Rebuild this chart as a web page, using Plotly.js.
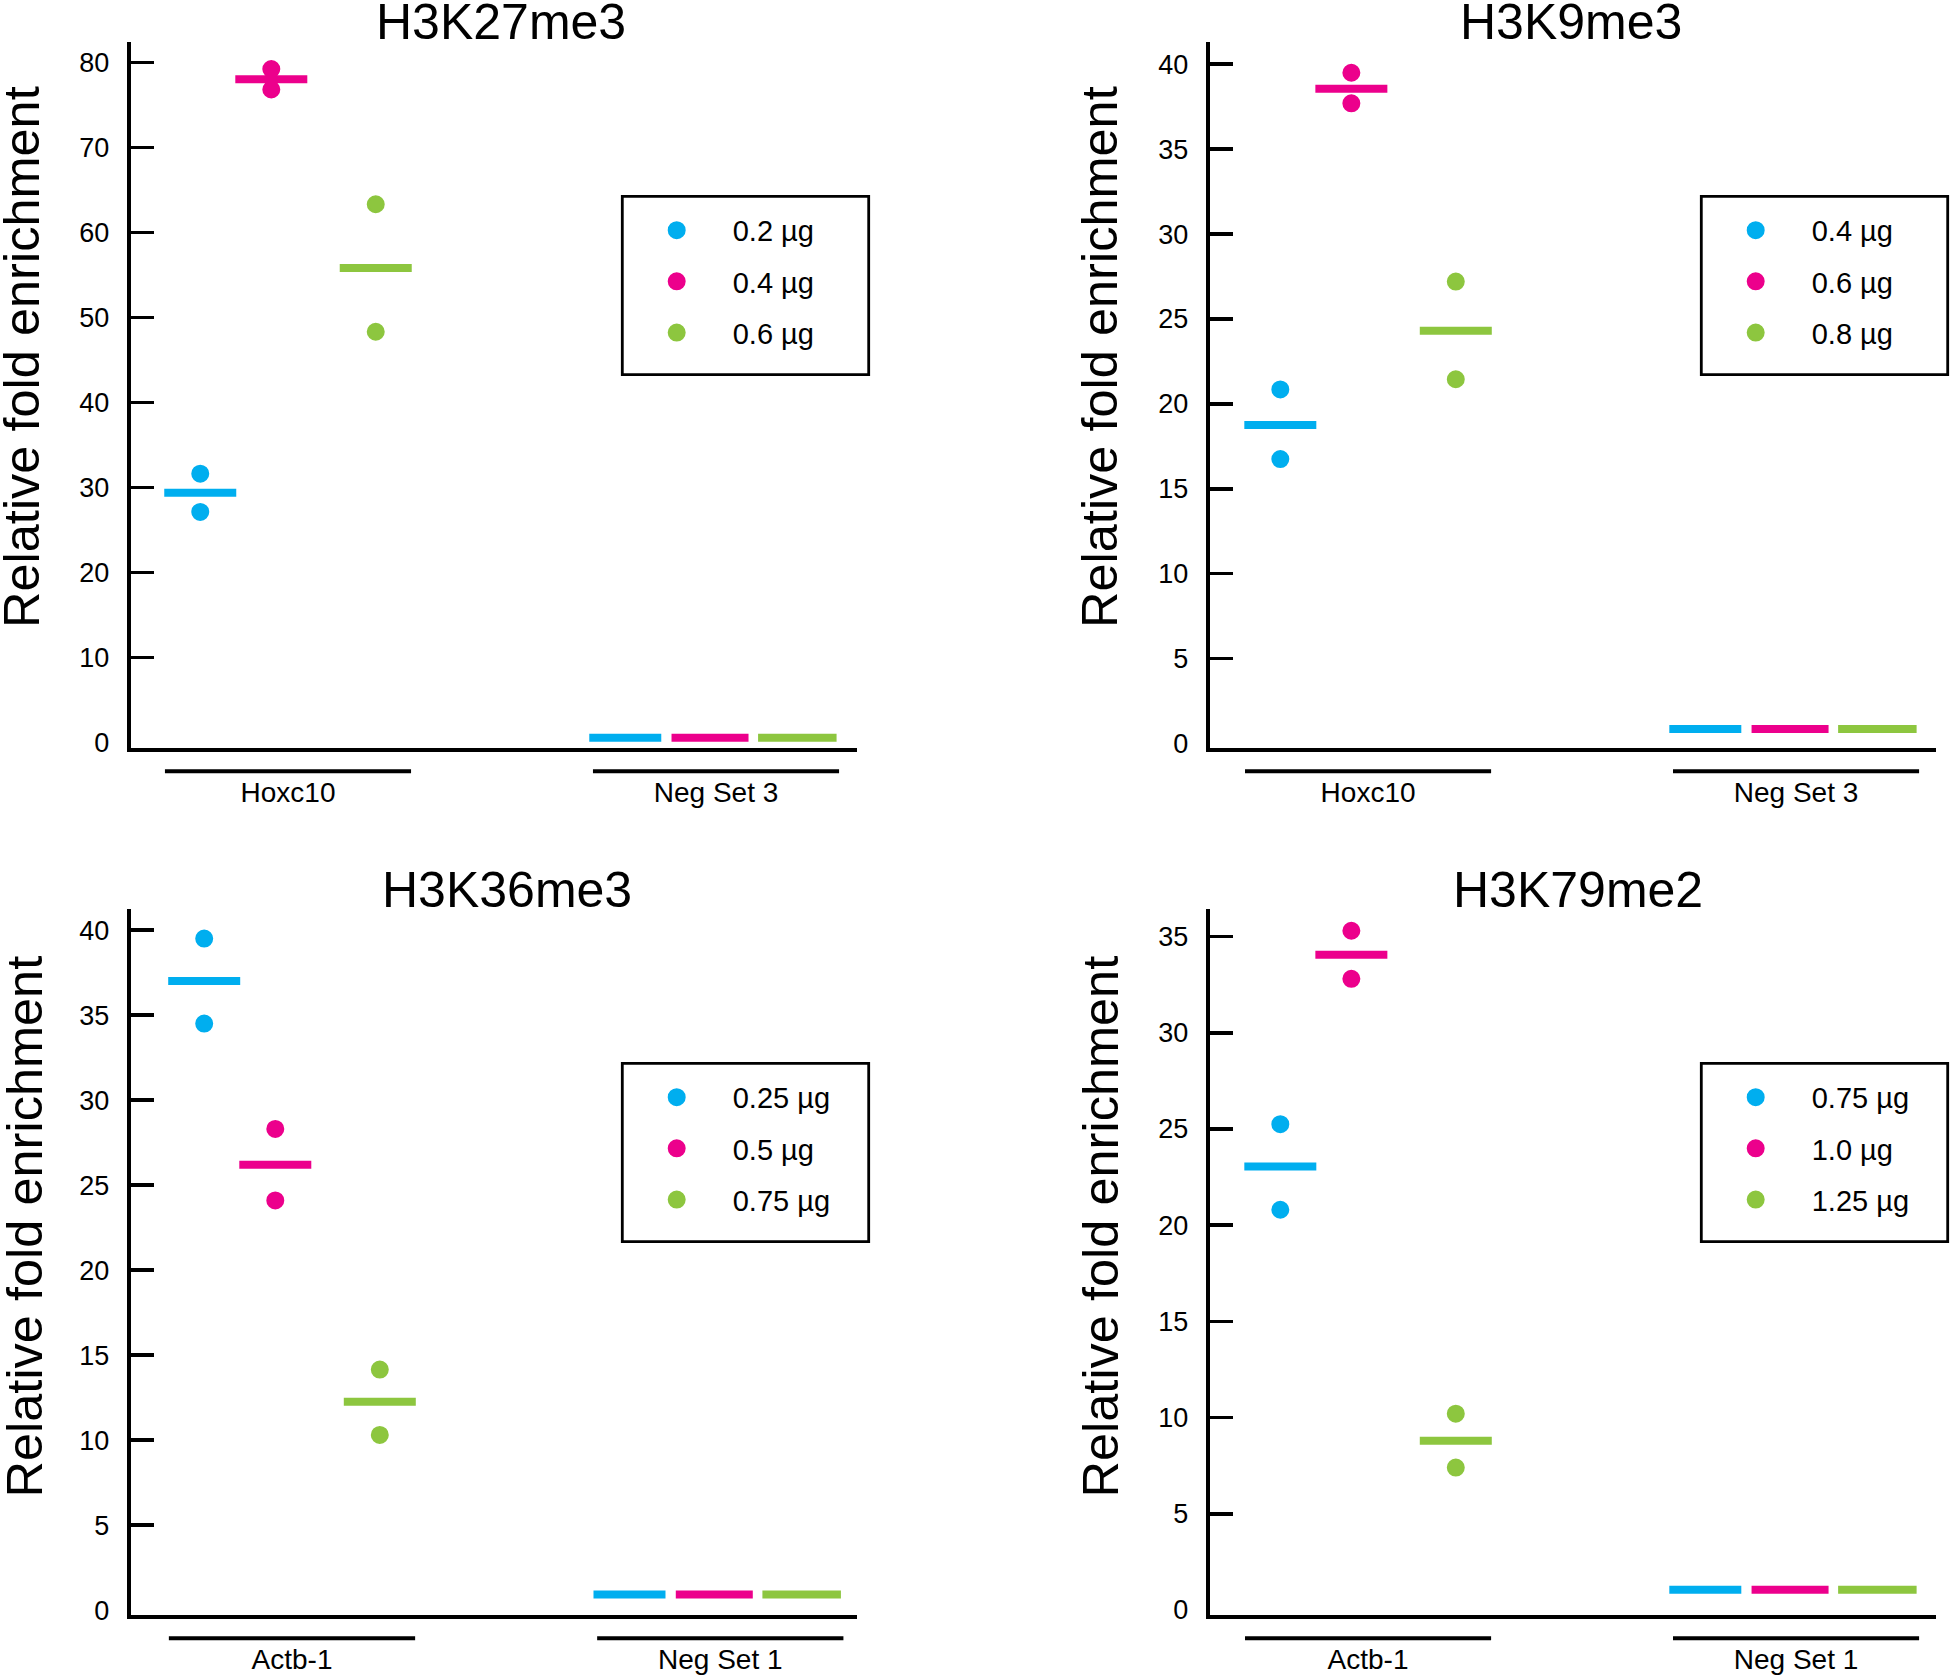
<!DOCTYPE html>
<html><head><meta charset="utf-8">
<script src="https://cdn.plot.ly/plotly-3.0.1.min.js"></script>
<style>html,body{margin:0;padding:0;background:#fff;}#chart{width:1950px;height:1679px;}</style>
</head><body><div id="chart"></div>
<script>
// ---------- data ----------
const seriesColors = ['#00AEEF', '#EC008C', '#8DC63F'];

const p1Title = 'H3K27me3';
const p1Categories = ['Hoxc10', 'Neg Set 3'];
const p1Series = ['0.2 µg', '0.4 µg', '0.6 µg'];
const p1Reps = [[31.6, 27.1], [79.2, 76.8], [63.3, 48.3]];
const p1Means = [29.35, 78.0, 55.8];
const p1NegMeans = [0.55, 0.55, 0.55];
const p1YTicks = [0, 10, 20, 30, 40, 50, 60, 70, 80];

const p2Title = 'H3K9me3';
const p2Categories = ['Hoxc10', 'Neg Set 3'];
const p2Series = ['0.4 µg', '0.6 µg', '0.8 µg'];
const p2Reps = [[20.85, 16.75], [39.5, 37.7], [27.2, 21.45]];
const p2Means = [18.75, 38.55, 24.3];
const p2NegMeans = [0.86, 0.86, 0.86];
const p2YTicks = [0, 5, 10, 15, 20, 25, 30, 35, 40];

const p3Title = 'H3K36me3';
const p3Categories = ['Actb-1', 'Neg Set 1'];
const p3Series = ['0.25 µg', '0.5 µg', '0.75 µg'];
const p3Reps = [[39.5, 34.5], [28.3, 24.1], [14.15, 10.3]];
const p3Means = [37.0, 26.2, 12.25];
const p3NegMeans = [0.92, 0.92, 0.92];
const p3YTicks = [0, 5, 10, 15, 20, 25, 30, 35, 40];

const p4Title = 'H3K79me2';
const p4Categories = ['Actb-1', 'Neg Set 1'];
const p4Series = ['0.75 µg', '1.0 µg', '1.25 µg'];
const p4Reps = [[25.25, 20.8], [35.3, 32.8], [10.2, 7.4]];
const p4Means = [23.05, 34.05, 8.8];
const p4NegMeans = [1.05, 1.05, 1.05];
const p4YTicks = [0, 5, 10, 15, 20, 25, 30, 35];

const yAxisTitle = 'Relative fold enrichment';

// ---------- layout / style settings ----------
const W = 1950, H = 1679;
const FONT = 'Liberation Sans, Arial, sans-serif';
const px = v => v / W;
const py = v => 1 - v / H;

const groupOffsets = [[-0.205, -0.039, 0.205], [-0.212, -0.014, 0.19]];
const meanWidths = [[72, 72, 72], [72, 77, 78.5]];

const panels = [
  {title: p1Title, cats: p1Categories, series: p1Series, reps: p1Reps, means: p1Means, neg: p1NegMeans, ticks: p1YTicks,
   box: {left: 130.7, right: 857, top: 42, bottom: 748}, xr: [-0.3675, 1.3294], yr: [-0.67, 82.39],
   titleXY: [501, 22.5], ytXY: [21.5, 357.5]},
  {title: p2Title, cats: p2Categories, series: p2Series, reps: p2Reps, means: p2Means, neg: p2NegMeans, ticks: p2YTicks,
   box: {left: 1209.7, right: 1936, top: 42, bottom: 748}, xr: [-0.37, 1.327], yr: [-0.265, 41.31],
   titleXY: [1571, 22.5], ytXY: [1099.5, 357.5]},
  {title: p3Title, cats: p3Categories, series: p3Series, reps: p3Reps, means: p3Means, neg: p3NegMeans, ticks: p3YTicks,
   box: {left: 130.7, right: 857, top: 909, bottom: 1615}, xr: [-0.3766, 1.3192], yr: [-0.29, 41.24],
   titleXY: [507, 889.5], ytXY: [23.5, 1227]},
  {title: p4Title, cats: p4Categories, series: p4Series, reps: p4Reps, means: p4Means, neg: p4NegMeans, ticks: p4YTicks,
   box: {left: 1209.7, right: 1936, top: 909, bottom: 1615}, xr: [-0.37, 1.327], yr: [-0.26, 36.43],
   titleXY: [1578, 889.5], ytXY: [1099.5, 1227]}
];

const traces = [];
const layout = {
  width: W, height: H,
  margin: {l: 0, r: 0, t: 0, b: 0, autoexpand: false},
  paper_bgcolor: '#fff', plot_bgcolor: '#fff',
  font: {family: FONT, color: '#000'},
  showlegend: true,
  shapes: [], annotations: []
};

panels.forEach((p, i) => {
  const n = i + 1;
  const xk = 'xaxis' + (i ? n : ''), yk = 'yaxis' + (i ? n : '');
  const xa = 'x' + (i ? n : ''), ya = 'y' + (i ? n : '');
  const ovk = 'yaxis' + (n + 4), ova = 'y' + (n + 4);
  const lg = 'legend' + (i ? n : '');
  const b = p.box;

  for (let s = 0; s < 3; s++) {
    traces.push({
      type: 'scatter', mode: 'markers', xaxis: xa, yaxis: ya,
      x: p.reps[s].map(() => 0 + groupOffsets[0][s]), y: p.reps[s],
      marker: {size: 16, color: seriesColors[s], opacity: 1, line: {width: 2, color: seriesColors[s]}},
      name: p.series[s], legend: lg, legendgroup: 'p' + n + 's' + s,
      hoverinfo: 'skip'
    });
    traces.push({
      type: 'scatter', mode: 'markers', xaxis: xa, yaxis: ya,
      x: [0 + groupOffsets[0][s], 1 + groupOffsets[1][s]], y: [p.means[s], p.neg[s]],
      marker: {symbol: 'line-ew', size: [meanWidths[0][s] / 1.4, meanWidths[1][s] / 1.4], opacity: 1,
               color: seriesColors[s], line: {width: 8, color: seriesColors[s]}},
      showlegend: false, legend: lg, legendgroup: 'p' + n + 's' + s, hoverinfo: 'skip'
    });
  }
  // empty trace that registers the overlay axis carrying the tick marks
  traces.push({type: 'scatter', mode: 'markers', xaxis: xa, yaxis: ova, x: [], y: [],
    showlegend: false, hoverinfo: 'skip'});

  layout[xk] = {
    domain: [px(b.left), px(b.right)], range: p.xr, anchor: ya,
    showline: true, linewidth: 4, linecolor: '#000', showgrid: false, zeroline: false,
    tickmode: 'array', tickvals: [0, 1], ticktext: p.cats, ticks: '',
    tickfont: {family: FONT, size: 28, color: '#000'}, ticklabelstandoff: 16,
    fixedrange: true
  };
  layout[yk] = {
    domain: [py(b.bottom), py(b.top)], range: p.yr, anchor: xa,
    showline: true, linewidth: 4, linecolor: '#000', showgrid: false, zeroline: false,
    tickmode: 'array', tickvals: p.ticks, ticktext: p.ticks.map(String), ticks: '',
    tickfont: {family: FONT, size: 27, color: '#000'}, ticklabelstandoff: 12,
    fixedrange: true
  };
  layout[ovk] = {
    overlaying: ya, anchor: xa, side: 'left', range: p.yr, visible: true,
    showline: true, linewidth: 4, linecolor: 'rgba(0,0,0,0)', showgrid: false, zeroline: false,
    tickmode: 'array', tickvals: p.ticks.filter(v => v !== 0), ticks: 'inside',
    ticklen: 23, tickwidth: 3.6, tickcolor: '#000', showticklabels: false, fixedrange: true
  };
  layout[lg] = {
    x: px(b.left + 490), xanchor: 'left', y: py(b.top + 162.8), yanchor: 'top',
    bgcolor: 'rgba(0,0,0,0)', borderwidth: 0,
    font: {family: FONT, size: 29, color: '#000'},
    itemwidth: 102, traceorder: 'grouped', tracegroupgap: 10.5
  };

  // legend frame
  layout.shapes.push({type: 'rect', xref: 'paper', yref: 'paper',
    x0: px(b.left + 491.6), x1: px(b.left + 738), y0: py(b.top + 154.3), y1: py(b.top + 332.7),
    line: {color: '#000', width: 2.8}, fillcolor: 'rgba(0,0,0,0)'});
  // category brackets under the x axis
  [0, 1].forEach(g => {
    layout.shapes.push({type: 'line', xref: xa, yref: 'paper',
      x0: g - 0.2875, x1: g + 0.2875, y0: py(b.bottom + 23.3), y1: py(b.bottom + 23.3),
      line: {color: '#000', width: 4}});
  });
  // panel title
  layout.annotations.push({xref: 'paper', yref: 'paper', x: px(p.titleXY[0]), y: py(p.titleXY[1]),
    xanchor: 'center', yanchor: 'middle', showarrow: false, text: p.title,
    font: {family: FONT, size: 50, color: '#000'}});
  // y-axis title
  layout.annotations.push({xref: 'paper', yref: 'paper', x: px(p.ytXY[0]), y: py(p.ytXY[1]),
    xanchor: 'center', yanchor: 'middle', showarrow: false, text: yAxisTitle, textangle: -90,
    font: {family: FONT, size: 50.5, color: '#000'}});
});

Plotly.newPlot('chart', traces, layout, {displayModeBar: false, staticPlot: true});
</script>
</body></html>
